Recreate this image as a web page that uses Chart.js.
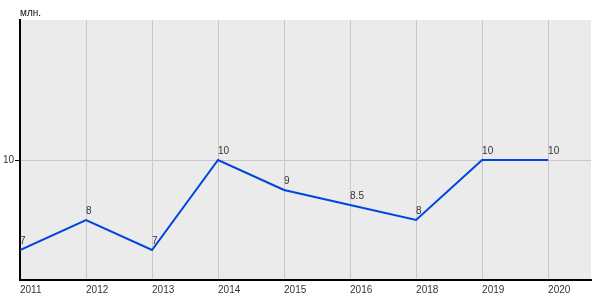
<!DOCTYPE html>
<html lang="ru">
<head>
<meta charset="UTF-8">
<title>млн.</title>
<script src="https://cdn.jsdelivr.net/npm/chart.js@4/dist/chart.umd.min.js"></script>
<style>
  html, body { margin: 0; padding: 0; background: #fff; }
  #wrap { width: 600px; height: 300px; }
</style>
</head>
<body>
<div id="wrap"><canvas id="lineChart"></canvas></div>
<script>
const years = ['2011', '2012', '2013', '2014', '2015', '2016', '2018', '2019', '2020'];
const values = [7, 8, 7, 10, 9, 8.5, 8, 10, 10];
const pointLabels = ['7', '8', '7', '10', '9', '8.5', '8', '10', '10'];
const yTicks = [10];
const unitLabel = 'млн.';

// серый фон области графика + подписи значений
const plotBg = {
  id: 'plotBg',
  beforeDraw(chart) {
    const { ctx, chartArea: a } = chart;
    ctx.save();
    ctx.fillStyle = '#ebebeb';
    ctx.fillRect(a.left, a.top, a.right - a.left, a.bottom - a.top);
    ctx.restore();
  },
  afterDatasetsDraw(chart) {
    const { ctx, chartArea: a } = chart;
    const meta = chart.getDatasetMeta(0);
    ctx.save();
    ctx.font = '10px "Liberation Sans", Arial, sans-serif';
    ctx.fillStyle = '#333';
    ctx.textAlign = 'left';
    ctx.textBaseline = 'alphabetic';
    meta.data.forEach((pt, i) => {
      ctx.fillText(pointLabels[i], pt.x, pt.y - 6);
    });
    ctx.fillStyle = '#111';
    ctx.fillText(unitLabel, a.left, a.top - 4);
    ctx.restore();
  }
};

new Chart(document.getElementById('lineChart'), {
  type: 'line',
  data: {
    datasets: [{
      data: values.map((v, i) => ({ x: i, y: v })),
      borderColor: '#0044e0',
      borderWidth: 2,
      pointRadius: 0,
      tension: 0,
      fill: false
    }]
  },
  options: {
    responsive: true,
    maintainAspectRatio: false,
    animation: false,
    layout: { padding: { top: 20, right: 9, left: 0, bottom: 0 } },
    plugins: { legend: { display: false }, tooltip: { enabled: false } },
    scales: {
      x: {
        type: 'linear',
        min: 0,
        max: 8.65,
        afterBuildTicks: s => { s.ticks = years.map((_, i) => ({ value: i })); },
        afterFit: s => { s.height = 20; },
        grid: { color: '#c8c8c8', drawTicks: false },
        border: { display: true, color: '#000', width: 2 },
        ticks: {
          align: 'start',
          padding: 4,
          maxRotation: 0,
          color: '#333',
          font: { family: '"Liberation Sans", Arial, sans-serif', size: 10 },
          callback: v => years[v] || ''
        }
      },
      y: {
        min: 6,
        max: 14.667,
        afterBuildTicks: s => { s.ticks = yTicks.map(v => ({ value: v })); },
        afterFit: s => { s.width = 20; },
        grid: { color: '#c8c8c8', tickLength: 5, tickColor: '#000' },
        border: { display: true, color: '#000', width: 2 },
        ticks: {
          padding: 1,
          color: '#333',
          font: { family: '"Liberation Sans", Arial, sans-serif', size: 10 }
        }
      }
    }
  },
  plugins: [plotBg]
});
</script>
</body>
</html>
